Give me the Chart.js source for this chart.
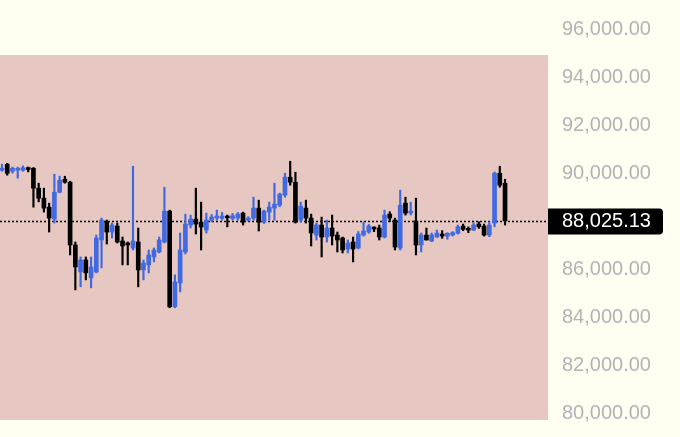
<!DOCTYPE html>
<html><head><meta charset="utf-8">
<script src="https://cdn.jsdelivr.net/npm/chart.js@4.4.1/dist/chart.umd.min.js"></script>
<style>html,body{margin:0;padding:0;background:#fffef1;}#wrap{width:680px;height:437px;position:relative;}</style>
</head><body><div id="wrap"><canvas id="c"></canvas></div>
<script>
const opens = [90139,90388,90097,90139,90139,90250,90222,89391,88975,88601,
88102,89224,89765,89640,87022,85900,86398,85650,85900,87230,
87978,87562,87811,87188,87105,86897,87146,85983,86191,86523,
86731,87146,88435,84445,85443,86731,87853,88102,87978,87645,
88061,88144,88130,88227,88130,88144,88352,88061,88144,88560,
87978,88393,88560,88684,89100,89848,89640,88061,88560,88144,
87437,87853,87354,87728,87437,87313,86856,87146,86897,87437,
87562,87770,87728,87354,88310,88061,86897,88767,88352,88019,
87022,87437,87188,87354,87479,87396,87437,87510,87811,87715,
87645,87895,87811,87437,87936,90014,89599];
const closes = [90222,90014,90222,90222,90240,90170,89391,88975,88560,88144,
89224,89723,89640,87022,86107,86398,85858,86107,87313,88061,
87562,87853,87146,86980,87022,87188,85983,86274,86606,86814,
87230,88435,84445,85484,86814,87895,88102,87895,87770,88061,
88185,88227,88227,88156,88240,88310,87978,88144,88560,87978,
88435,88601,88726,89141,89848,89640,87978,88643,88144,87521,
87853,87354,87728,87396,87230,86814,87105,86856,87479,87604,
87811,87687,87354,88269,88144,86939,88684,88352,88435,87022,
87437,87230,87437,87521,87396,87510,87535,87780,87675,87645,
87853,87780,87437,87853,90014,89515,88025.13];
const highs = [90388,90430,90270,90270,90320,90275,90250,89599,89391,88767,
89973,89890,89890,89680,87146,86523,86523,86523,87437,88144,
88061,87936,87936,87354,87146,90305,87728,86398,86814,86897,
87354,89432,88476,85775,87521,88310,88269,89391,88809,88352,
88290,88476,88380,88269,88340,88380,88393,88200,89017,88892,
88476,88809,89599,89183,90014,90513,90056,88809,88892,88310,
87936,88185,88061,88269,87562,87354,87230,87354,87580,87978,
87880,87780,87853,88476,88410,88144,89308,89017,88809,88975,
87521,87728,87521,87645,87620,87535,87580,87853,87895,87780,
87950,87990,87895,87990,90070,90305,89765];
const lows = [90097,89931,90020,89806,90097,90070,88601,88820,88393,87562,
87936,89200,89599,86606,85150,85276,85567,85235,85858,86066,
87063,87313,87105,86191,86191,86814,85276,85567,85858,86315,
86690,87105,84403,84403,85068,86648,87728,87479,86814,87521,
87990,88061,88061,87780,88061,88061,87853,88019,88061,87604,
87920,88061,88061,88615,89017,89515,87936,87978,87936,86980,
87230,86523,87146,87022,86731,86690,86690,86315,86856,87396,
87510,87580,87230,87313,87990,86814,86814,88269,88269,86606,
86731,87230,87160,87340,87300,87260,87396,87479,87620,87535,
87620,87715,87396,87370,87780,89432,87853];
const yTicks = [80000,82000,84000,86000,88000,90000,92000,94000,96000];
const lastPrice = 88025.13;
const zoneTop = 94944, zoneBottom = 79723;
const yMin = 79015, yMax = 97238;
const xMin = -0.38, xMax = 104.2;

const UP = '#4169e1', DOWN = '#000000', CREAM = '#fffef1', PINK = '#e6c7c1';
const FONT = 'Liberation Sans';
const fmt = v => Number(v).toLocaleString('en-US',{minimumFractionDigits:2,maximumFractionDigits:2});

const idx = opens.map((_, i) => i);
const colors = idx.map(i => closes[i] >= opens[i] ? UP : DOWN);
const bodyData = idx.map(i => ({x:i, y:[Math.min(opens[i],closes[i]), Math.max(opens[i],closes[i])]}));
const wickData = idx.map(i => ({x:i, y:[lows[i], highs[i]]}));

const deco = {
  id:'deco',
  beforeDraw(chart){
    const {ctx,width,height} = chart;
    ctx.save(); ctx.fillStyle = CREAM; ctx.fillRect(0,0,width,height); ctx.restore();
  },
  beforeDatasetsDraw(chart){
    const {ctx, chartArea, scales:{y}} = chart;
    const t = y.getPixelForValue(zoneTop), b = y.getPixelForValue(zoneBottom);
    ctx.save();
    ctx.fillStyle = PINK;
    ctx.fillRect(chartArea.left, t, chartArea.right - chartArea.left, b - t);
    const py = Math.round(y.getPixelForValue(lastPrice)) + 0.5;
    ctx.setLineDash([2,2]);
    ctx.lineWidth = 1.5;
    ctx.strokeStyle = '#000';
    ctx.beginPath(); ctx.moveTo(chartArea.left, py); ctx.lineTo(chartArea.right, py); ctx.stroke();
    ctx.restore();
  },
  afterDraw(chart){
    const {ctx, chartArea, scales:{y}} = chart;
    const py = y.getPixelForValue(lastPrice) + 0.5;
    const x0 = chartArea.right, w = 115, h = 26, r = 4;
    ctx.save();
    ctx.fillStyle = '#000';
    ctx.beginPath();
    ctx.moveTo(x0, py - h/2);
    ctx.lineTo(x0 + w - r, py - h/2);
    ctx.quadraticCurveTo(x0 + w, py - h/2, x0 + w, py - h/2 + r);
    ctx.lineTo(x0 + w, py + h/2 - r);
    ctx.quadraticCurveTo(x0 + w, py + h/2, x0 + w - r, py + h/2);
    ctx.lineTo(x0, py + h/2);
    ctx.closePath();
    ctx.fill();
    ctx.fillStyle = '#ffffff';
    ctx.font = '20px "' + FONT + '"';
    ctx.textAlign = 'left';
    ctx.textBaseline = 'middle';
    ctx.fillText(fmt(lastPrice), x0 + 14, py);
    ctx.restore();
  }
};

new Chart(document.getElementById('c'), {
  type:'bar',
  data:{ datasets:[
    { label:'body', data: bodyData, backgroundColor: colors, borderWidth:0, barThickness:4, minBarLength:1.5, grouped:false },
    { label:'wick', data: wickData, backgroundColor: colors, borderWidth:0, barThickness:1.5, grouped:false }
  ]},
  options:{
    responsive:true, maintainAspectRatio:false, animation:false,
    layout:{ padding:0 },
    plugins:{ legend:{display:false}, tooltip:{enabled:false} },
    scales:{
      x:{ type:'linear', min:xMin, max:xMax, display:false, offset:false },
      y:{ position:'right', min:yMin, max:yMax,
        grid:{display:false, drawTicks:false}, border:{display:false},
        afterBuildTicks(s){ s.ticks = yTicks.map(v => ({value:v})); },
        afterFit(s){ s.width = 132; s.paddingTop = 0; s.paddingBottom = 0; },
        ticks:{ autoSkip:false, padding:14, color:'#b3b3b8', font:{family:FONT, size:20}, callback: v => fmt(v) }
      }
    }
  },
  plugins:[deco]
});
</script>
</body></html>
